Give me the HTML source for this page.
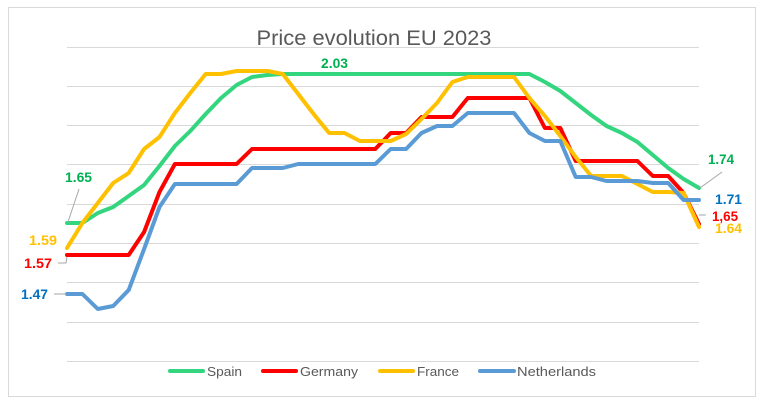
<!DOCTYPE html>
<html><head><meta charset="utf-8"><style>
html,body{margin:0;padding:0;background:#fff;}
svg{display:block;}
text{font-family:"Liberation Sans",Arial,sans-serif;}
</style></head><body>
<svg width="760" height="402" viewBox="0 0 760 402" xmlns="http://www.w3.org/2000/svg">
<rect x="0" y="0" width="760" height="402" fill="#fff"/>
<rect x="8.5" y="7.5" width="747" height="389" fill="#fff" stroke="#D9D9D9" stroke-width="1"/>
<text x="374" y="45" font-size="21" fill="#595959" text-anchor="middle" textLength="235" lengthAdjust="spacingAndGlyphs">Price evolution EU 2023</text>
<g stroke="#D9D9D9" stroke-width="1">
<line x1="67" y1="47.5" x2="699" y2="47.5"/>
<line x1="67" y1="86.5" x2="699" y2="86.5"/>
<line x1="67" y1="125.5" x2="699" y2="125.5"/>
<line x1="67" y1="164.5" x2="699" y2="164.5"/>
<line x1="67" y1="204.5" x2="699" y2="204.5"/>
<line x1="67" y1="243.5" x2="699" y2="243.5"/>
<line x1="67" y1="282.5" x2="699" y2="282.5"/>
<line x1="67" y1="322.5" x2="699" y2="322.5"/>
<line x1="67" y1="361.5" x2="699" y2="361.5"/>
</g>
<g fill="none" stroke-width="4" stroke-linejoin="round" stroke-linecap="round">
<polyline stroke="#33D67E" points="67,223 82.4,223 97.8,213 113.2,207 128.7,196 144.1,185 159.5,166 174.9,146 190.3,131 205.7,114 221.1,98 236.6,85 252,77 267.4,75 282.8,74 529.4,74 544.9,82 560.3,91 575.7,103 591.1,115 606.5,126 621.9,133 637.4,142 652.8,155 668.2,168 683.6,179 699,188"/>
<polyline stroke="#FF0000" points="67,255 128.7,255 144.1,232 159.5,192 174.9,164 236.6,164 252,149 375.3,149 390.7,133 406.1,133 421.5,117 452.4,117 467.8,98 529.4,98 544.9,128 560.3,128 575.7,161 637.4,161 652.8,176 668.2,176 683.6,193 699,224"/>
<polyline stroke="#FFC000" points="67,248 82.4,223 97.8,203 113.2,183 128.7,173 144.1,149 159.5,137 174.9,113 190.3,93 205.7,74 221.1,74 236.6,71 267.4,71 282.8,74 298.2,94 313.6,114 329.1,133 344.5,133 359.9,141 390.7,141 406.1,134 421.5,119 437,103 452.4,82 467.8,77 514,77 529.4,98 544.9,116 560.3,136 575.7,157 591.1,176 621.9,176 637.4,184 652.8,192 668.2,192 683.6,193 699,227"/>
<polyline stroke="#5B9BD5" points="67,294 82.4,294 97.8,309 113.2,306 128.7,290 144.1,249 159.5,207 174.9,184 236.6,184 252,168 282.8,168 298.2,164 375.3,164 390.7,149 406.1,149 421.5,133 437,126 452.4,126 467.8,113 514,113 529.4,133 544.9,141 560.3,141 575.7,177 591.1,177 606.5,181 637.4,181 652.8,183 668.2,183 683.6,200 699,200"/>
</g>
<g stroke="#A6A6A6" stroke-width="1" fill="none">
<polyline points="68,222 79,189"/>
<polyline points="58,263 66,263 67,257"/>
<polyline points="54,294 66,294"/>
<polyline points="700,188 722,172"/>
<polyline points="699,215 706,215"/>
</g>
<g font-weight="bold" font-size="14" lengthAdjust="spacingAndGlyphs">
<text x="65" y="182" fill="#00B050" textLength="27" lengthAdjust="spacingAndGlyphs">1.65</text>
<text x="321" y="68" fill="#00B050" textLength="27" lengthAdjust="spacingAndGlyphs">2.03</text>
<text x="29" y="245" fill="#FFC000" textLength="28" lengthAdjust="spacingAndGlyphs">1.59</text>
<text x="24" y="268" fill="#FF0000" textLength="28" lengthAdjust="spacingAndGlyphs">1.57</text>
<text x="21" y="299" fill="#0070C0" textLength="27" lengthAdjust="spacingAndGlyphs">1.47</text>
<text x="708" y="164" fill="#00B050" textLength="26" lengthAdjust="spacingAndGlyphs">1.74</text>
<text x="715" y="204" fill="#0070C0" textLength="27" lengthAdjust="spacingAndGlyphs">1.71</text>
<text x="712" y="221" fill="#FF0000" textLength="26" lengthAdjust="spacingAndGlyphs">1,65</text>
<text x="715" y="233" fill="#FFC000" textLength="27" lengthAdjust="spacingAndGlyphs">1.64</text>
</g>
<g stroke-width="4" stroke-linecap="round">
<line x1="170" y1="371" x2="203" y2="371" stroke="#33D67E"/>
<line x1="263" y1="371" x2="296" y2="371" stroke="#FF0000"/>
<line x1="380" y1="371" x2="413" y2="371" stroke="#FFC000"/>
<line x1="480" y1="371" x2="514" y2="371" stroke="#5B9BD5"/>
</g>
<g font-size="13" fill="#595959">
<text x="207" y="376" textLength="35" lengthAdjust="spacingAndGlyphs">Spain</text>
<text x="300" y="376" textLength="58" lengthAdjust="spacingAndGlyphs">Germany</text>
<text x="417" y="376" textLength="42" lengthAdjust="spacingAndGlyphs">France</text>
<text x="517" y="376" textLength="79" lengthAdjust="spacingAndGlyphs">Netherlands</text>
</g>
</svg>
</body></html>
